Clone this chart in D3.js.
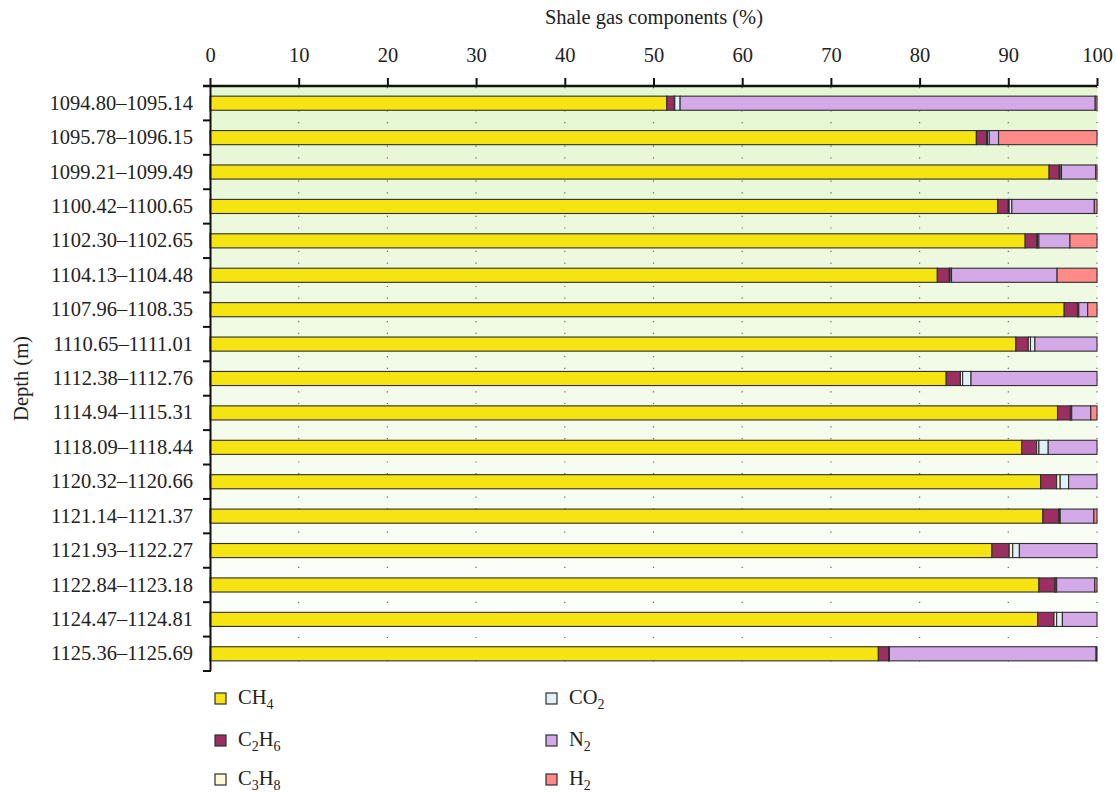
<!DOCTYPE html>
<html>
<head>
<meta charset="utf-8">
<script src="https://cdn.jsdelivr.net/npm/d3@7/dist/d3.min.js"></script>
<style>
  html, body { margin: 0; padding: 0; background: #fff; }
  svg { display: block; }
  text { font-family: "Liberation Serif", "Times New Roman", serif; fill: #222; }
</style>
</head>
<body>
<svg id="chart" width="1116" height="793"></svg>
<script>
// Depth intervals (m), top to bottom
const depths = [
  "1094.80–1095.14", "1095.78–1096.15", "1099.21–1099.49", "1100.42–1100.65",
  "1102.30–1102.65", "1104.13–1104.48", "1107.96–1108.35", "1110.65–1111.01",
  "1112.38–1112.76", "1114.94–1115.31", "1118.09–1118.44", "1120.32–1120.66",
  "1121.14–1121.37", "1121.93–1122.27", "1122.84–1123.18", "1124.47–1124.81",
  "1125.36–1125.69"
];

// Gas component percentages per depth interval
const ch4  = [51.5, 86.4, 94.6, 88.8, 91.9, 82.0, 96.3, 90.85, 83.0, 95.55, 91.5, 93.65, 93.9, 88.15, 93.45, 93.3, 75.35];
const c2h6 = [0.85, 1.15, 1.15, 1.2, 1.3, 1.35, 1.5, 1.4, 1.6, 1.45, 1.7, 1.8, 1.8, 1.95, 1.8, 1.85, 1.15];
const c3h8 = [0.05, 0.1, 0.1, 0.1, 0.1, 0.1, 0.05, 0.25, 0.25, 0.05, 0.25, 0.4, 0.05, 0.4, 0.05, 0.3, 0.05];
const co2  = [0.6, 0.2, 0.15, 0.3, 0.15, 0.15, 0.1, 0.5, 0.95, 0.1, 1.05, 0.95, 0.1, 0.75, 0.15, 0.65, 0.05];
const n2   = [46.8, 1.05, 3.85, 9.3, 3.5, 11.9, 1.0, 7.0, 14.2, 2.15, 5.5, 3.2, 3.8, 8.75, 4.3, 3.9, 23.3];
const h2   = [0.2, 11.1, 0.15, 0.3, 3.05, 4.5, 1.05, 0, 0, 0.7, 0, 0, 0.35, 0, 0.25, 0, 0.1];

const xTicks = [0, 10, 20, 30, 40, 50, 60, 70, 80, 90, 100];

const components = [
  { key: "CH4",  base: "CH", sub1: "4", mid: "", sub2: "", values: ch4,  color: "#f5e312" },
  { key: "C2H6", base: "C", sub1: "2", mid: "H", sub2: "6", values: c2h6, color: "#9c2f62" },
  { key: "C3H8", base: "C", sub1: "3", mid: "H", sub2: "8", values: c3h8, color: "#fdf8d6" },
  { key: "CO2",  base: "CO", sub1: "2", mid: "", sub2: "", values: co2,  color: "#e2f1f8" },
  { key: "N2",   base: "N", sub1: "2", mid: "", sub2: "", values: n2,   color: "#d4a9e7" },
  { key: "H2",   base: "H", sub1: "2", mid: "", sub2: "", values: h2,   color: "#ff8a88" }
];

const rows = depths.map((d, i) => {
  const r = { depth: d };
  components.forEach(c => { r[c.key] = c.values[i]; });
  return r;
});

const FONT = 20.5;
const svg = d3.select("#chart");
const plotLeft = 210, plotRight = 1097, plotTop = 86, plotBottom = 671;

const x = d3.scaleLinear().domain([0, 100]).range([plotLeft, plotRight]);
const y = d3.scaleBand().domain(depths).range([plotTop, plotBottom])
  .paddingInner(0.59).paddingOuter(0.295);

// Background gradient
const defs = svg.append("defs");
const grad = defs.append("linearGradient").attr("id", "bg")
  .attr("x1", 0).attr("y1", 0).attr("x2", 0).attr("y2", 1);
grad.append("stop").attr("offset", "0%").attr("stop-color", "#e5f7d2");
grad.append("stop").attr("offset", "100%").attr("stop-color", "#ffffff");

svg.append("rect")
  .attr("x", plotLeft).attr("y", plotTop)
  .attr("width", plotRight - plotLeft).attr("height", plotBottom - plotTop)
  .attr("fill", "url(#bg)");

// Dotted vertical gridlines
svg.append("g").selectAll("line")
  .data(xTicks.filter(t => t > 0))
  .join("line")
  .attr("x1", d => x(d)).attr("x2", d => x(d))
  .attr("y1", plotTop + 1).attr("y2", plotBottom)
  .attr("stroke", "#666").attr("stroke-width", 1.2)
  .attr("stroke-dasharray", "1.2,10.5");

// Stacked bars
const stack = d3.stack().keys(components.map(c => c.key));
const series = stack(rows);

svg.append("g").selectAll("g")
  .data(series)
  .join("g")
  .attr("fill", (s, i) => components[i].color)
  .selectAll("rect")
  .data(s => s)
  .join("rect")
  .attr("x", d => x(d[0]))
  .attr("y", d => y(d.data.depth))
  .attr("width", d => Math.max(0, x(d[1]) - x(d[0])))
  .attr("height", y.bandwidth())
  .attr("stroke", "#2e2e2e")
  .attr("stroke-width", 1.1);

// Top axis
const xAxis = d3.axisTop(x).tickValues(xTicks).tickSize(8).tickPadding(16).tickFormat(d3.format("d"));
const gx = svg.append("g").attr("transform", `translate(0,${plotTop})`).call(xAxis);
gx.select(".domain").remove();
gx.selectAll(".tick line").attr("stroke", "#111").attr("stroke-width", 2);
gx.selectAll(".tick text").attr("font-size", FONT).attr("fill", "#222")
  .attr("font-family", "Liberation Serif, serif");
svg.append("line")
  .attr("x1", plotLeft - 7).attr("x2", plotRight)
  .attr("y1", plotTop).attr("y2", plotTop)
  .attr("stroke", "#111").attr("stroke-width", 2.5);

// Left axis: labels at band centres, ticks at band boundaries
const yAxis = d3.axisLeft(y).tickSize(0).tickPadding(17);
const gy = svg.append("g").attr("transform", `translate(${plotLeft},0)`).call(yAxis);
gy.select(".domain").remove();
gy.selectAll(".tick text").attr("font-size", FONT).attr("fill", "#222")
  .attr("font-family", "Liberation Serif, serif");

svg.append("line")
  .attr("x1", plotLeft + 0.5).attr("x2", plotLeft + 0.5)
  .attr("y1", plotTop).attr("y2", plotBottom)
  .attr("stroke", "#111").attr("stroke-width", 2);

const step = y.step();
const boundaries = d3.range(1, depths.length + 1).map(i => plotTop + i * step);
svg.append("g").selectAll("line")
  .data(boundaries)
  .join("line")
  .attr("x1", plotLeft - 7).attr("x2", plotLeft + 1)
  .attr("y1", d => d).attr("y2", d => d)
  .attr("stroke", "#111").attr("stroke-width", 2);

// Axis titles
svg.append("text")
  .attr("x", 654).attr("y", 24)
  .attr("text-anchor", "middle").attr("font-size", FONT)
  .text("Shale gas components (%)");

svg.append("text")
  .attr("transform", `translate(28,${(plotTop + plotBottom) / 2}) rotate(-90)`)
  .attr("text-anchor", "middle").attr("font-size", FONT)
  .text("Depth (m)");

// Legend
const legendPos = [
  { x: 215, y: 693 }, { x: 215, y: 735 }, { x: 215, y: 774 },
  { x: 546, y: 693 }, { x: 546, y: 735 }, { x: 546, y: 774 }
];
const lg = svg.append("g").selectAll("g")
  .data(components)
  .join("g")
  .attr("transform", (d, i) => `translate(${legendPos[i].x},${legendPos[i].y})`);

lg.append("rect")
  .attr("width", 11).attr("height", 11)
  .attr("fill", d => d.color)
  .attr("stroke", "#2e2e2e").attr("stroke-width", 1.2);

const lt = lg.append("text")
  .attr("x", 23).attr("y", 11)
  .attr("font-size", FONT);
lt.append("tspan").text(d => d.base);
lt.append("tspan").attr("font-size", 14).attr("dy", 5).text(d => d.sub1);
lt.append("tspan").attr("dy", -5).text(d => d.mid);
lt.append("tspan").attr("font-size", 14).attr("dy", 5).text(d => d.sub2);
</script>
</body>
</html>
